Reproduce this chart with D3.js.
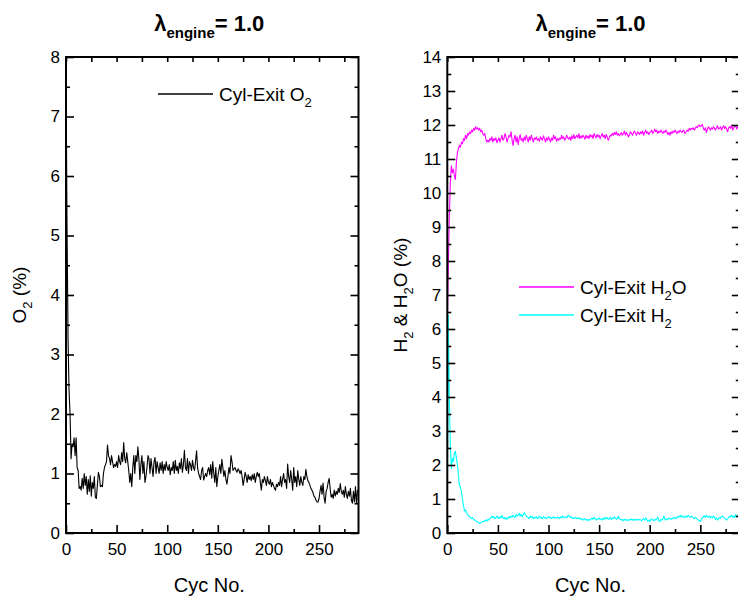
<!DOCTYPE html>
<html>
<head>
<meta charset="utf-8">
<script src="https://cdn.jsdelivr.net/npm/d3@7"></script>
<style>
  body { margin: 0; background: #fff; }
  svg text { font-family: "Liberation Sans", Arial, Helvetica, sans-serif; fill: #000; }
</style>
</head>
<body>
<svg id="chart" width="738" height="601"></svg>
<script>
// cycle-resolved exhaust composition at lambda = 1.0
const o2 = [
  7.9, 5.2, 3.3, 2.4, 2.0, 1.25, 1.5, 1.45, 1.6, 1.3,
  1.6, 1.1, 1.05, 0.75, 0.78, 0.72, 0.92, 0.75, 1.0, 0.8,
  0.95, 0.65, 0.9, 0.7, 0.96, 0.62, 0.85, 0.75, 0.95, 0.6,
  0.58, 0.8, 1.02, 0.95, 0.78, 0.8, 0.78, 1.0, 1.1, 1.15,
  1.2, 1.48, 1.3, 1.25, 1.15, 1.3, 1.2, 1.1, 1.15, 1.12,
  1.2, 1.1, 1.3, 1.2, 1.15, 1.35, 1.2, 1.52, 1.25, 1.18,
  1.35, 1.2, 1.05, 0.85, 1.0, 0.78, 1.1, 1.3, 1.0, 1.3,
  1.2, 1.45, 1.25, 0.9, 1.15, 1.3, 1.0, 1.2, 0.85, 0.95,
  1.1, 1.3, 1.25, 1.0, 1.25, 1.1, 0.95, 1.2, 1.27, 1.0,
  1.2, 1.1, 1.0, 1.18, 1.05, 1.2, 1.0, 1.15, 1.05, 1.2,
  1.1, 1.05, 1.15, 0.98, 1.1, 1.05, 1.2, 1.0, 1.22, 1.05,
  1.12, 1.0, 1.18, 1.08, 1.25, 1.02, 1.15, 1.39, 1.1, 1.05,
  1.25, 1.0, 1.2, 1.15, 1.05, 1.22, 1.1, 1.05, 1.2, 1.38,
  1.1, 1.0, 0.95, 0.9, 1.05, 1.1, 0.89, 0.95, 1.0, 0.95,
  1.05, 1.1, 0.98, 1.15, 0.92, 1.2, 1.0, 0.85, 1.1, 0.78,
  0.95, 1.05, 1.15, 1.0, 1.24, 1.1, 0.95, 1.05, 0.9, 0.82,
  0.95, 1.1, 1.0, 1.3, 1.2, 1.05, 1.08, 1.1, 1.05, 1.02,
  1.08, 1.05, 1.0, 1.05, 0.95, 0.8, 0.9, 1.02, 0.95, 0.85,
  0.98, 0.9, 0.95, 0.88, 0.98, 0.9, 1.0, 0.85, 0.95, 1.02,
  0.95, 1.0, 0.85, 0.72, 0.9, 0.85, 0.95, 0.88, 0.8, 0.95,
  0.85, 0.82, 0.9, 0.78, 0.85, 0.8, 0.75, 0.72, 0.82, 0.78,
  0.85, 0.8, 0.95, 0.78, 0.9, 1.0, 0.85, 0.9, 0.75, 1.16,
  0.95, 0.85, 1.05, 0.9, 0.72, 1.1, 0.85, 0.95, 0.78, 1.05,
  0.9, 0.8, 0.95, 0.85, 0.8, 0.95, 0.9, 1.07, 0.95, 0.88,
  0.85, 0.8, 0.75, 0.72, 0.68, 0.62, 0.6, 0.55, 0.52, 0.52,
  0.58, 0.7, 0.8, 0.65, 0.84, 0.6, 0.5, 0.7, 0.75, 0.85,
  0.92, 0.75, 0.6, 0.65, 0.58, 0.72, 0.62, 0.7, 0.65, 0.75,
  0.68, 0.83, 0.7, 0.65, 0.72, 0.6, 0.78, 0.65, 0.58, 0.7,
  0.62, 0.75, 0.55, 0.5, 0.7, 0.52, 0.78, 0.5, 0.72
];

const h2o = [
  6.0, 7.8, 9.3, 10.3, 10.8, 10.6, 10.7, 10.5, 10.4, 10.9,
  11.2, 11.3, 11.4, 11.35, 11.5, 11.45, 11.6, 11.55, 11.7, 11.6,
  11.75, 11.7, 11.8, 11.75, 11.85, 11.8, 11.9, 11.85, 11.95, 11.88,
  11.92, 11.85, 11.9, 11.8, 11.85, 11.75, 11.7, 11.75, 11.6, 11.5,
  11.55, 11.5, 11.6, 11.55, 11.65, 11.5, 11.6, 11.55, 11.62, 11.48,
  11.55, 11.62, 11.5, 11.6, 11.7, 11.55, 11.6, 11.75, 11.65, 11.5,
  11.6, 11.7, 11.65, 11.8, 11.55, 11.4, 11.6, 11.7, 11.5, 11.65,
  11.42, 11.6, 11.72, 11.55, 11.6, 11.5, 11.65, 11.55, 11.7, 11.6,
  11.5, 11.65, 11.55, 11.7, 11.6, 11.5, 11.62, 11.58, 11.65, 11.55,
  11.6, 11.52, 11.65, 11.6, 11.55, 11.68, 11.6, 11.5, 11.62, 11.55,
  11.65, 11.58, 11.5, 11.62, 11.55, 11.7, 11.6, 11.65, 11.52, 11.6,
  11.55, 11.62, 11.58, 11.7, 11.6, 11.65, 11.55, 11.6, 11.7, 11.62,
  11.58, 11.65, 11.55, 11.68, 11.6, 11.72, 11.6, 11.65, 11.7, 11.62,
  11.75, 11.6, 11.68, 11.62, 11.7, 11.65, 11.58, 11.7, 11.62, 11.68,
  11.6, 11.72, 11.65, 11.7, 11.6, 11.75, 11.68, 11.62, 11.72, 11.65,
  11.7, 11.6, 11.68, 11.75, 11.65, 11.7, 11.6, 11.72, 11.65, 11.55,
  11.62, 11.7, 11.68, 11.75, 11.7, 11.78, 11.72, 11.8, 11.7, 11.75,
  11.68, 11.72, 11.78, 11.7, 11.75, 11.82, 11.7, 11.78, 11.72, 11.65,
  11.72, 11.8, 11.75, 11.7, 11.78, 11.82, 11.75, 11.7, 11.8, 11.76,
  11.72, 11.8, 11.75, 11.82, 11.7, 11.78, 11.85, 11.75, 11.8, 11.72,
  11.78, 11.8, 11.85, 11.75, 11.8, 11.88, 11.8, 11.85, 11.75, 11.82,
  11.78, 11.85, 11.8, 11.75, 11.82, 11.78, 11.85, 11.8, 11.72, 11.78,
  11.7, 11.8, 11.75, 11.82, 11.78, 11.85, 11.8, 11.75, 11.82, 11.78,
  11.85, 11.8, 11.78, 11.85, 11.82, 11.75, 11.8, 11.85, 11.82, 11.9,
  11.85, 11.9, 11.88, 11.92, 11.85, 11.9, 11.95, 11.92, 11.98, 12.0,
  11.95, 11.98, 12.02, 11.9, 11.85, 11.92, 11.78, 11.88, 11.95, 11.9,
  11.85, 11.92, 11.88, 11.95, 11.9, 11.85, 11.92, 11.98, 11.88, 11.9,
  11.95, 11.85, 11.92, 11.98, 11.9, 11.95, 11.88, 11.8, 11.92, 11.95,
  11.9, 12.0, 11.85, 11.92, 11.95, 11.98, 11.88, 11.95, 11.92
];

const h2 = [
  0.7, 6.4, 4.0, 2.6, 1.9, 2.2, 2.1, 2.35, 2.4, 2.2,
  2.0, 1.7, 1.4, 1.35, 1.2, 1.0, 0.8, 0.65, 0.68, 0.6,
  0.55, 0.5, 0.48, 0.45, 0.42, 0.45, 0.4, 0.38, 0.36, 0.34,
  0.32, 0.3, 0.28, 0.3, 0.32, 0.35, 0.33, 0.36, 0.38, 0.35,
  0.4, 0.38, 0.42, 0.45, 0.5, 0.45, 0.48, 0.42, 0.45, 0.5,
  0.45, 0.42, 0.48, 0.44, 0.52, 0.45, 0.42, 0.46, 0.4, 0.44,
  0.42, 0.48, 0.45, 0.5, 0.46, 0.52, 0.48, 0.45, 0.55, 0.5,
  0.52, 0.58, 0.5, 0.55, 0.48, 0.52, 0.6, 0.55, 0.5, 0.48,
  0.45, 0.42, 0.5, 0.45, 0.48, 0.42, 0.46, 0.44, 0.48, 0.42,
  0.45, 0.5, 0.44, 0.46, 0.42, 0.48, 0.44, 0.46, 0.42, 0.45,
  0.48, 0.44, 0.46, 0.42, 0.45, 0.48, 0.43, 0.46, 0.44, 0.47,
  0.45, 0.42, 0.48, 0.45, 0.5, 0.44, 0.46, 0.48, 0.44, 0.5,
  0.52, 0.46, 0.48, 0.44, 0.45, 0.42, 0.46, 0.44, 0.42, 0.45,
  0.42, 0.44, 0.4, 0.42, 0.38, 0.4, 0.42, 0.38, 0.4, 0.36,
  0.4, 0.38, 0.42, 0.44, 0.4, 0.46, 0.42, 0.38, 0.42, 0.4,
  0.44, 0.4, 0.42, 0.38, 0.44, 0.4, 0.46, 0.42, 0.45, 0.4,
  0.42, 0.46, 0.4, 0.44, 0.42, 0.48, 0.44, 0.4, 0.42, 0.5,
  0.42, 0.4, 0.38, 0.4, 0.36, 0.4, 0.38, 0.4, 0.36, 0.38,
  0.4, 0.38, 0.42, 0.38, 0.4, 0.37, 0.4, 0.38, 0.41, 0.38,
  0.4, 0.38, 0.36, 0.4, 0.42, 0.38, 0.45, 0.4, 0.35, 0.38,
  0.34, 0.4, 0.42, 0.38, 0.36, 0.4, 0.38, 0.42, 0.47, 0.36,
  0.34, 0.4, 0.38, 0.42, 0.5, 0.4, 0.38, 0.42, 0.4, 0.44,
  0.42, 0.4, 0.44, 0.42, 0.46, 0.44, 0.42, 0.48, 0.46, 0.5,
  0.48, 0.52, 0.46, 0.5, 0.48, 0.45, 0.5, 0.47, 0.52, 0.48,
  0.46, 0.5, 0.48, 0.44, 0.42, 0.46, 0.44, 0.4, 0.38, 0.36,
  0.34, 0.4, 0.44, 0.48, 0.5, 0.46, 0.52, 0.48, 0.46, 0.5,
  0.45, 0.48, 0.44, 0.5, 0.46, 0.4, 0.44, 0.38, 0.42, 0.46,
  0.44, 0.48, 0.5, 0.46, 0.44, 0.4, 0.38, 0.42, 0.46, 0.5,
  0.48, 0.52, 0.46, 0.5, 0.45, 0.55, 0.48, 0.5, 0.46
];

const cycles = d3.range(o2.length);   // cycle number 0..288

const xMajor = [0, 50, 100, 150, 200, 250];
const xMinor = [25, 75, 125, 175, 225, 275];
const o2Ticks = [0, 1, 2, 3, 4, 5, 6, 7, 8];
const hTicks = [0, 1, 2, 3, 4, 5, 6, 7, 8, 9, 10, 11, 12, 13, 14];

const svg = d3.select('#chart');
const plotW = 292.5, plotH = 476, plotTop = 57;
const xMax = 289;

// writes text parts, lowering the ones flagged sub
function addText(sel, parts, subSize) {
  let shift = 0;
  parts.forEach(p => {
    const target = p.sub ? 6 : 0;
    const ts = sel.append('tspan').text(p.t);
    if (target !== shift) ts.attr('dy', target - shift);
    if (p.sub) ts.attr('font-size', subSize);
    shift = target;
  });
}

function drawPanel(left, yMax, yTicks, series, ylabelParts, legend, legendPos, id) {
  const x = d3.scaleLinear().domain([0, xMax]).range([left, left + plotW]);
  const y = d3.scaleLinear().domain([0, yMax]).range([plotTop + plotH, plotTop]);
  const yMinor = yTicks.slice(0, -1).map(d => d + 0.5);

  svg.append('clipPath').attr('id', id)
    .append('rect').attr('x', left).attr('y', plotTop).attr('width', plotW).attr('height', plotH);

  // data lines
  const line = d3.line().x(d => x(d[0])).y(d => y(d[1]));
  series.forEach(s => {
    svg.append('path')
      .datum(cycles.map((c, i) => [c, s.values[i]]))
      .attr('clip-path', `url(#${id})`)
      .attr('fill', 'none')
      .attr('stroke', s.color)
      .attr('stroke-width', 1.1)
      .attr('stroke-linejoin', 'round')
      .attr('d', line);
  });

  // ticks pointing inward on all four sides
  const g = svg.append('g');
  const bottom = plotTop + plotH, right = left + plotW;
  g.append('g').attr('transform', `translate(0,${bottom})`)
    .call(d3.axisBottom(x).tickValues(xMajor).tickSize(-8).tickPadding(10).tickFormat(d3.format('d')));
  g.append('g').attr('transform', `translate(0,${bottom})`)
    .call(d3.axisBottom(x).tickValues(xMinor).tickSize(-4).tickFormat(''));
  g.append('g').attr('transform', `translate(0,${plotTop})`)
    .call(d3.axisTop(x).tickValues(xMajor.concat(xMinor)).tickSize(-5).tickFormat(''));
  g.append('g').attr('transform', `translate(${left},0)`)
    .call(d3.axisLeft(y).tickValues(yTicks).tickSize(-8).tickPadding(6).tickFormat(d3.format('d')));
  g.append('g').attr('transform', `translate(${left},0)`)
    .call(d3.axisLeft(y).tickValues(yMinor).tickSize(-4).tickFormat(''));
  g.append('g').attr('transform', `translate(${right},0)`)
    .call(d3.axisRight(y).tickValues(yTicks).tickSize(-8).tickFormat(''));
  g.append('g').attr('transform', `translate(${right},0)`)
    .call(d3.axisRight(y).tickValues(yMinor).tickSize(-4).tickFormat(''));
  g.selectAll('.domain').remove();
  g.selectAll('.tick line').attr('stroke', '#000').attr('stroke-width', 1.6);
  g.selectAll('.tick text').filter(function() { return this.textContent === ''; }).remove();
  g.selectAll('.tick text').attr('font-size', 17).attr('fill', '#000')
    .style('font-family', '"Liberation Sans", Arial, sans-serif');

  svg.append('rect')
    .attr('x', left).attr('y', plotTop).attr('width', plotW).attr('height', plotH)
    .attr('fill', 'none').attr('stroke', '#000').attr('stroke-width', 2);

  // title
  const cx = left + plotW / 2 - 3;
  const t = svg.append('text').attr('x', cx).attr('y', 31)
    .attr('text-anchor', 'middle').attr('font-weight', 'bold').attr('font-size', 22);
  t.append('tspan').text('λ');
  t.append('tspan').attr('font-size', 15).attr('dy', 7).text('engine');
  t.append('tspan').attr('dy', -7).text('= 1.0');

  // x label
  svg.append('text').attr('x', left + plotW / 2 - 3).attr('y', 592)
    .attr('text-anchor', 'middle').attr('font-size', 20).text('Cyc No.');

  // y label
  const yl = svg.append('text')
    .attr('transform', `translate(${left - 40},${plotTop + plotH / 2}) rotate(-90)`)
    .attr('text-anchor', 'middle').attr('font-size', 19);
  addText(yl, ylabelParts, 13);

  // legend
  legend.forEach((l, i) => {
    const ly = legendPos.y + i * 28;
    svg.append('line')
      .attr('x1', legendPos.x).attr('x2', legendPos.x + 55)
      .attr('y1', ly).attr('y2', ly)
      .attr('stroke', l.color).attr('stroke-width', 1.3);
    const lt = svg.append('text').attr('x', legendPos.x + 61).attr('y', ly + 7).attr('font-size', 19);
    addText(lt, l.parts, 13);
  });
}

drawPanel(66, 8, o2Ticks,
  [{ values: o2, color: '#000' }],
  [{ t: 'O' }, { t: '2', sub: true }, { t: ' (%)' }],
  [{ color: '#000', parts: [{ t: 'Cyl-Exit O' }, { t: '2', sub: true }] }],
  { x: 158, y: 94 }, 'clipL');

drawPanel(447.3, 14, hTicks,
  [{ values: h2o, color: '#ff00ff' }, { values: h2, color: '#00ffff' }],
  [{ t: 'H' }, { t: '2', sub: true }, { t: ' & H' }, { t: '2', sub: true }, { t: 'O (%)' }],
  [{ color: '#ff00ff', parts: [{ t: 'Cyl-Exit H' }, { t: '2', sub: true }, { t: 'O' }] },
   { color: '#00ffff', parts: [{ t: 'Cyl-Exit H' }, { t: '2', sub: true }] }],
  { x: 519, y: 287 }, 'clipR');
</script>
</body>
</html>
